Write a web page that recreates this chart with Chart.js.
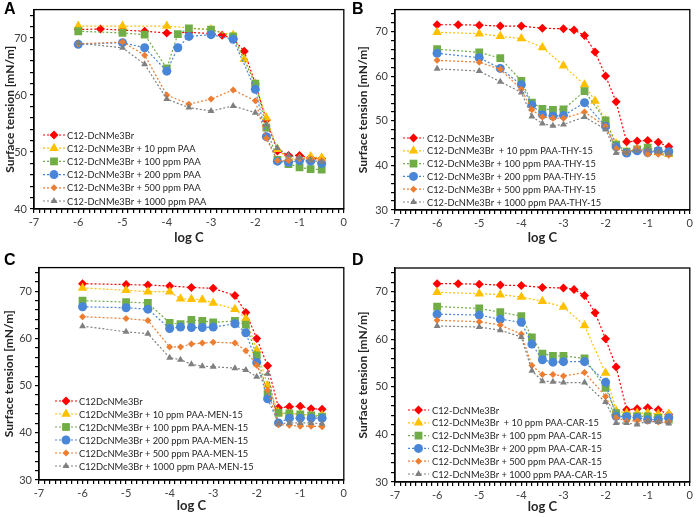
<!DOCTYPE html>
<html>
<head>
<meta charset="utf-8">
<script src="https://cdn.jsdelivr.net/npm/chart.js@4/dist/chart.umd.min.js"></script>
<style>
  body { margin: 0; background: #fff; width: 696px; height: 517px; position: relative; overflow: hidden; }
  .panel { position: absolute; }
  .tag { position: absolute; font: bold 16px "Liberation Sans", Arial, sans-serif; color: #000; }
</style>
</head>
<body>
<div class="panel" style="left:0;top:0;width:350px;height:252px"><canvas id="chartA"></canvas></div>
<div class="panel" style="left:346px;top:0;width:350px;height:252px"><canvas id="chartB"></canvas></div>
<div class="panel" style="left:0;top:258px;width:350px;height:259px"><canvas id="chartC"></canvas></div>
<div class="panel" style="left:346px;top:258px;width:350px;height:259px"><canvas id="chartD"></canvas></div>
<div class="tag" style="left:4px;top:0px">A</div>
<div class="tag" style="left:352px;top:0px">B</div>
<div class="tag" style="left:4px;top:251px">C</div>
<div class="tag" style="left:352px;top:251px">D</div>
<script>
// log C positions
const xRed = [-6, -5.5, -5, -4.5, -4, -3.5, -3, -2.75, -2.5, -2.25, -2, -1.75, -1.5, -1.25, -1, -0.75, -0.5];
const xMix = [-6, -5, -4.5, -4, -3.75, -3.5, -3.25, -3, -2.5, -2, -1.75, -1.5, -1.25, -1, -0.75, -0.5];
const xMixC = [-6, -5, -4.5, -4, -3.75, -3.5, -3.25, -3, -2.5, -2.25, -2, -1.75, -1.5, -1.25, -1, -0.75, -0.5];

// panel A - PAA
const xA_10 = [-6, -5, -4, -3, -2.5, -2.25, -2, -1.75, -1.5, -1.25, -1, -0.75, -0.5];
const xA_100 = [-6, -5, -4.5, -4, -3.75, -3.5, -3, -2.5, -2, -1.75, -1.5, -1.25, -1, -0.75, -0.5];
const xA_200 = [-6, -5, -4.5, -4, -3.75, -3.5, -3, -2.5, -2, -1.75, -1.5, -1.25, -1, -0.75, -0.5];
const xA_500 = [-6, -5, -4.5, -4, -3.5, -3, -2.5, -2, -1.75, -1.5, -1.25, -1, -0.75, -0.5];
const A_0 = [71.5, 71.6, 71.4, 71.2, 70.9, 71.0, 70.8, 70.5, 69.9, 67.7, 62.0, 55.6, 50.2, 49.4, 49.4, 49.0, 48.8];
const A_10 = [72.1, 72.1, 72.1, 71.5, 70.5, 66.3, 62.0, 56.0, 50.5, 48.8, 48.8, 49.2, 49.0];
const A_100 = [71.2, 70.9, 70.6, 64.7, 70.7, 71.7, 71.5, 70.3, 62.0, 54.3, 48.6, 47.9, 47.3, 47.0, 46.9];
const A_200 = [68.9, 69.2, 68.3, 64.2, 68.3, 70.3, 70.6, 69.8, 61.0, 52.7, 48.4, 48.2, 48.5, 48.4, 48.0];
const A_500 = [69.0, 69.3, 67.0, 60.0, 58.4, 59.3, 60.9, 59.0, 52.4, 48.5, 48.5, 48.8, 48.8, 48.5];
const A_1000 = [69.1, 68.3, 65.4, 59.3, 57.8, 57.2, 58.1, 56.9, 54.8, 50.7, 49.4, 49.0, 48.5, 48.3];

// panel B - PAA-THY-15
const xB_10 = [-6, -5, -4.5, -4, -3.5, -3, -2.5, -2.25, -2, -1.75, -1.5, -1.25, -1, -0.75, -0.5];
const B_0 = [71.6, 71.6, 71.5, 71.3, 71.3, 70.8, 70.7, 70.4, 69.2, 65.5, 60.1, 54.3, 45.3, 45.5, 45.6, 45.2, 44.2];
const B_10 = [69.9, 69.6, 69.0, 68.5, 66.5, 62.4, 58.1, 54.5, 50.1, 44.9, 43.1, 43.6, 43.5, 42.9, 42.5];
const B_100 = [66.1, 65.4, 64.1, 59.0, 54.1, 52.7, 52.5, 52.6, 56.7, 50.1, 44.7, 43.1, 43.6, 44.0, 43.3, 42.9];
const B_200 = [65.2, 64.2, 61.8, 58.1, 53.6, 51.4, 51.1, 51.2, 54.1, 48.8, 44.2, 42.8, 43.3, 42.9, 43.3, 43.1];
const B_500 = [63.6, 63.2, 61.6, 57.1, 52.5, 50.9, 50.6, 50.6, 52.0, 48.8, 43.8, 42.9, 44.0, 42.5, 42.5, 42.3];
const B_1000 = [61.7, 61.2, 58.8, 56.4, 51.0, 49.4, 48.9, 49.2, 50.9, 48.1, 42.8, 42.9, 43.3, 43.6, 43.1, 42.7];

// panel C - PAA-MEN-15
const xC_0 = [-6, -5, -4.5, -4, -3.5, -3, -2.5, -2.25, -2, -1.75, -1.5, -1.25, -1, -0.75, -0.5];
const C_0 = [71.6, 71.4, 71.3, 71.1, 70.8, 70.6, 69.1, 65.5, 60.0, 54.2, 45.3, 45.5, 45.6, 45.1, 45.0];
const C_10 = [70.7, 70.2, 69.9, 69.9, 68.4, 68.3, 68.2, 67.5, 66.2, 64.2, 57.5, 50.0, 44.3, 44.1, 43.9, 43.7, 43.7];
const C_100 = [68.0, 67.7, 67.5, 63.3, 63.0, 63.9, 63.7, 63.4, 63.7, 62.9, 56.4, 48.3, 44.2, 44.1, 43.9, 43.7, 43.4];
const C_200 = [66.7, 66.5, 66.2, 62.1, 62.4, 62.3, 62.3, 62.4, 63.1, 61.2, 54.9, 47.2, 42.1, 43.1, 43.1, 43.1, 43.1];
const C_500 = [64.6, 64.2, 63.8, 58.2, 58.2, 58.8, 59.0, 59.2, 59.0, 57.4, 54.3, 49.0, 41.7, 41.6, 41.4, 41.4, 41.3];
const C_1000 = [62.6, 61.4, 61.0, 55.9, 55.5, 54.5, 54.1, 54.0, 53.7, 53.3, 51.9, 52.5, 41.9, 42.1, 42.1, 42.1, 41.9];

// panel D - PAA-CAR-15
const xD_10 = [-6, -5, -4.5, -4, -3.5, -3, -2.5, -2, -1.75, -1.5, -1.25, -1, -0.75, -0.5];
const D_0 = [71.7, 71.7, 71.6, 71.4, 71.3, 70.9, 70.8, 70.5, 69.2, 65.6, 60.1, 54.2, 45.2, 45.4, 45.6, 45.2, 44.2];
const D_10 = [69.9, 69.6, 69.4, 68.9, 68.0, 66.8, 62.9, 52.9, 45.0, 44.5, 44.5, 44.5, 44.3, 44.3];
const D_100 = [66.9, 66.5, 65.7, 64.9, 60.4, 57.0, 56.5, 56.5, 56.0, 49.8, 44.5, 43.8, 43.8, 43.8, 43.5, 43.1];
const D_200 = [65.3, 65.1, 64.2, 63.6, 59.0, 55.7, 55.2, 55.3, 55.3, 51.0, 43.8, 43.7, 43.5, 43.1, 43.1, 43.5];
const D_500 = [64.0, 63.7, 63.0, 61.1, 54.5, 52.6, 52.6, 52.3, 53.0, 48.0, 43.5, 42.8, 42.9, 42.8, 42.6, 42.6];
const D_1000 = [62.8, 62.6, 61.9, 60.5, 53.4, 51.2, 51.1, 50.9, 50.9, 46.8, 42.4, 42.4, 42.1, 42.8, 42.6, 42.3];

const labelsA = ["C12-DcNMe3Br", "C12-DcNMe3Br + 10 ppm PAA", "C12-DcNMe3Br + 100 ppm PAA",
  "C12-DcNMe3Br + 200 ppm PAA", "C12-DcNMe3Br + 500 ppm PAA", "C12-DcNMe3Br + 1000 ppm PAA"];
const labelsB = ["C12-DcNMe3Br", "C12-DcNMe3Br  + 10 ppm PAA-THY-15", "C12-DcNMe3Br + 100 ppm PAA-THY-15",
  "C12-DcNMe3Br + 200 ppm PAA-THY-15", "C12-DcNMe3Br + 500 ppm PAA-THY-15", "C12-DcNMe3Br + 1000 ppm PAA-THY-15"];
const labelsC = ["C12DcNMe3Br", "C12DcNMe3Br + 10 ppm PAA-MEN-15", "C12DcNMe3Br + 100 ppm PAA-MEN-15",
  "C12DcNMe3Br + 200 ppm PAA-MEN-15", "C12DcNMe3Br + 500 ppm PAA-MEN-15", "C12DcNMe3Br + 1000 ppm PAA-MEN-15"];
const labelsD = ["C12-DcNMe3Br", "C12-DcNMe3Br  + 10 ppm PAA-CAR-15", "C12-DcNMe3Br + 100 ppm PAA-CAR-15",
  "C12-DcNMe3Br + 200 ppm PAA-CAR-15", "C12-DcNMe3Br + 500 ppm PAA-CAR-15", "C12-DcNMe3Br + 1000 ppm PAA-CAR-15"];

const colors = ["#ff0000", "#ffc000", "#70ad47", "#4a86d8", "#ed7d31", "#808080"];
const shapes = ["rectRot", "triangle", "rect", "circle", "rectRot", "triangle"];
const radii = [4.5, 5.5, 5.5, 4.5, 3.5, 4];

const FONT = "Lato, 'Open Sans', sans-serif";

function pts(xs, ys) {
  return xs.map((x, i) => ({ x: x, y: ys[i] }));
}

function marker(ctx, shape, x, y, r) {
  ctx.beginPath();
  if (shape === "circle") {
    ctx.arc(x, y, r, 0, Math.PI * 2);
  } else if (shape === "rect") {
    const s = r * Math.SQRT1_2;
    ctx.rect(x - s, y - s, 2 * s, 2 * s);
  } else if (shape === "rectRot") {
    ctx.moveTo(x - r, y); ctx.lineTo(x, y - r); ctx.lineTo(x + r, y); ctx.lineTo(x, y + r);
    ctx.closePath();
  } else {
    const h = Math.sin(Math.PI / 3) * r;
    ctx.moveTo(x, y - r); ctx.lineTo(x + h, y + r / 2); ctx.lineTo(x - h, y + r / 2);
    ctx.closePath();
  }
  ctx.fill();
}

// box around the plot area + legend inside it
const framePlugin = {
  id: "frame",
  afterDraw(chart, args, opts) {
    const { ctx, chartArea: a } = chart;
    ctx.save();
    ctx.strokeStyle = "#000";
    ctx.lineWidth = 1.3;
    ctx.strokeRect(a.left, a.top, a.right - a.left, a.bottom - a.top);

    const n = chart.data.datasets.length;
    ctx.font = "9.3px " + FONT;
    ctx.textBaseline = "middle";
    chart.data.datasets.forEach((ds, i) => {
      const y = a.bottom - opts.last - (n - 1 - i) * opts.gap;
      ctx.strokeStyle = ds.borderColor;
      ctx.lineWidth = 1.2;
      ctx.setLineDash([2, 2]);
      ctx.beginPath();
      ctx.moveTo(a.left + opts.x0, y);
      ctx.lineTo(a.left + opts.x1, y);
      ctx.stroke();
      ctx.setLineDash([]);
      ctx.fillStyle = ds.backgroundColor;
      marker(ctx, ds.pointStyle, a.left + (opts.x0 + opts.x1) / 2, y, ds.pointRadius);
      ctx.fillStyle = "#262626";
      ctx.fillText(ds.label, a.left + opts.tx, y + 0.5);
    });
    ctx.restore();
  }
};

function makeChart(id, series, labels, yMin, box) {
  const datasets = series.map((s, i) => ({
    label: labels[i],
    data: pts(s[0], s[1]),
    borderColor: colors[i],
    backgroundColor: colors[i],
    borderWidth: 1.2,
    borderDash: [2, 2],
    pointStyle: shapes[i],
    pointRadius: radii[i],
    pointBorderWidth: 0,
    showLine: true,
    fill: false,
    order: 5 - i
  }));
  new Chart(document.getElementById(id), {
    type: "scatter",
    data: { datasets },
    plugins: [framePlugin],
    options: {
      responsive: true,
      maintainAspectRatio: false,
      animation: false,
      layout: { padding: { top: box.top, right: box.right, left: 0, bottom: 0 } },
      plugins: {
        legend: { display: false },
        tooltip: { enabled: false },
        frame: box.legend
      },
      scales: {
        x: {
          type: "linear",
          min: -7, max: 0,
          border: { display: true, color: "#000", width: 1.3 },
          grid: { drawOnChartArea: false, color: "#000", tickLength: 4, lineWidth: 1.2 },
          ticks: {
            stepSize: 0.125,
            autoSkip: false,
            maxRotation: 0,
            color: "#404040",
            font: { family: FONT, size: 11 },
            padding: 3,
            callback: (v) => Number.isInteger(v) ? String(v) : ""
          },
          title: {
            display: true, text: "log C", color: "#262626",
            font: { family: FONT, size: 13, weight: "bold" },
            padding: { top: 0, bottom: box.xTitlePad }
          },
          afterFit: (s) => { s.height = box.xh; }
        },
        y: {
          min: yMin, max: 75,
          border: { display: true, color: "#000", width: 1.3 },
          grid: { drawOnChartArea: false, color: "#000", tickLength: 4, lineWidth: 1.2 },
          ticks: {
            stepSize: 2,
            includeBounds: false,
            autoSkip: false,
            color: "#404040",
            font: { family: FONT, size: 11 },
            padding: 3,
            callback: (v) => v % 10 === 0 ? String(v) : ""
          },
          title: {
            display: true, text: "Surface tension [mN/m]", color: "#262626",
            font: { family: FONT, size: 12, weight: "bold" },
            padding: { top: box.yTitlePad, bottom: 0 }
          },
          afterFit: (s) => { s.width = box.yw; }
        }
      }
    }
  });
}

makeChart("chartA", [
  [xRed, A_0], [xA_10, A_10], [xA_100, A_100], [xA_200, A_200], [xA_500, A_500], [xA_500, A_1000]
], labelsA, 40, { top: 7, right: 3, yw: 34, xh: 43, xTitlePad: 6, yTitlePad: 3,
  legend: { x0: 9, x1: 31, tx: 33, last: 8, gap: 13.2 } });

makeChart("chartB", [
  [xRed, B_0], [xB_10, B_10], [xMix, B_100], [xMix, B_200], [xMix, B_500], [xMix, B_1000]
], labelsB, 30, { top: 6, right: 3, yw: 49, xh: 42, xTitlePad: 6, yTitlePad: 10,
  legend: { x0: 8, x1: 29, tx: 32, last: 8, gap: 12.8 } });

makeChart("chartC", [
  [xC_0, C_0], [xMixC, C_10], [xMixC, C_100], [xMixC, C_200], [xMixC, C_500], [xMixC, C_1000]
], labelsC, 30, { top: 9, right: 3, yw: 39, xh: 37, xTitlePad: 3, yTitlePad: 2,
  legend: { x0: 16, x1: 38, tx: 40, last: 14, gap: 13 } });

makeChart("chartD", [
  [xRed, D_0], [xD_10, D_10], [xMix, D_100], [xMix, D_200], [xMix, D_500], [xMix, D_1000]
], labelsD, 30, { top: 10, right: 5, yw: 49, xh: 35, xTitlePad: 2, yTitlePad: 10,
  legend: { x0: 13, x1: 34, tx: 37, last: 8, gap: 12.8 } });
</script>
</body>
</html>
